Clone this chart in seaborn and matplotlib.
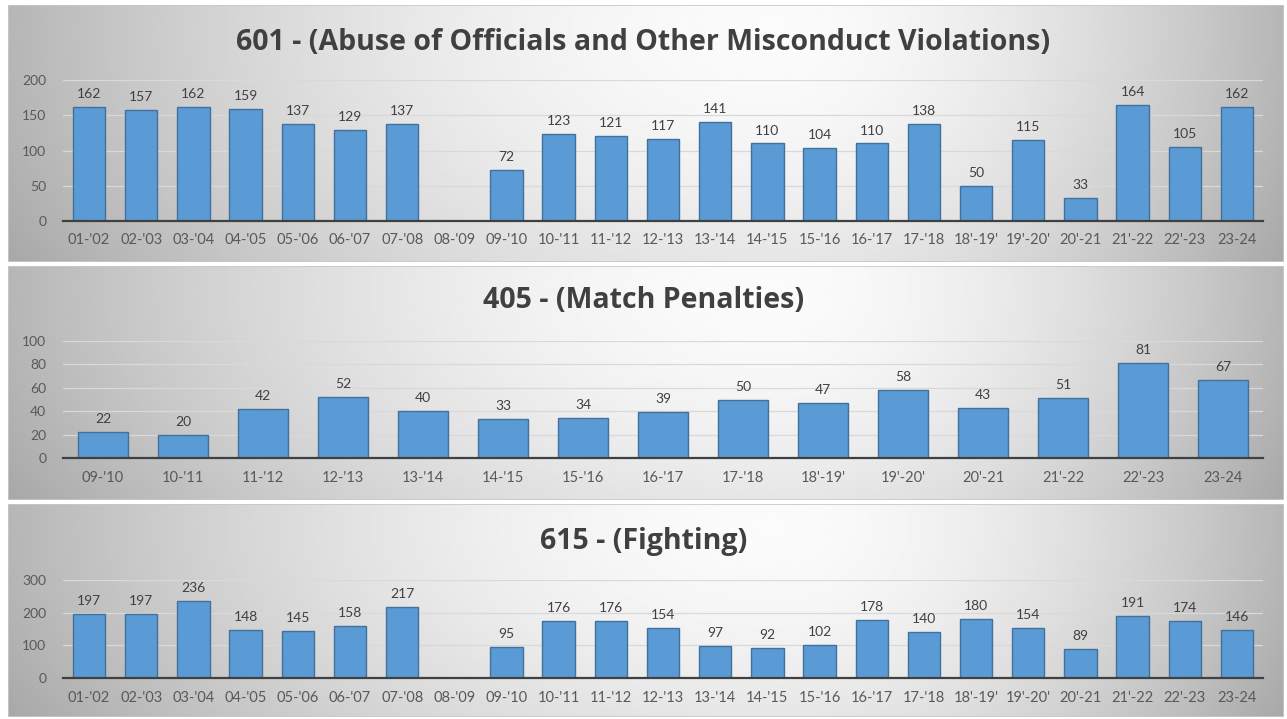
import numpy as np
import pandas as pd
import matplotlib
matplotlib.use("Agg")
import matplotlib.pyplot as plt
from matplotlib.patches import Rectangle
import seaborn as sns

# ---- data ----
SEASONS_ALL = ["01-'02", "02-'03", "03-'04", "04-'05", "05-'06", "06-'07", "07-'08",
               "08-'09", "09-'10", "10-'11", "11-'12", "12-'13", "13-'14", "14-'15",
               "15-'16", "16-'17", "17-'18", "18'-19'", "19'-20'", "20'-21", "21'-22",
               "22'-23", "23-24"]
SEASONS_405 = ["09-'10", "10-'11", "11-'12", "12-'13", "13-'14", "14-'15", "15-'16",
               "16-'17", "17-'18", "18'-19'", "19'-20'", "20'-21", "21'-22", "22'-23",
               "23-24"]

abuse_601 = [162, 157, 162, 159, 137, 129, 137, np.nan, 72, 123, 121, 117, 141, 110,
             104, 110, 138, 50, 115, 33, 164, 105, 162]
match_405 = [22, 20, 42, 52, 40, 33, 34, 39, 50, 47, 58, 43, 51, 81, 67]
fight_615 = [197, 197, 236, 148, 145, 158, 217, np.nan, 95, 176, 176, 154, 97, 92,
             102, 178, 140, 180, 154, 89, 191, 174, 146]

TITLES = ["601 - (Abuse of Officials and Other Misconduct Violations)",
          "405 - (Match Penalties)",
          "615 - (Fighting)"]
YTICKS = [[0, 50, 100, 150, 200], [0, 20, 40, 60, 80, 100], [0, 100, 200, 300]]

W, H = 1287, 719
BAR = "#5b9bd5"
EDGE = "#41719c"
TXT = "#404040"
TICK = "#595959"

sns.set_style("white")
plt.rcParams["font.family"] = ["Lato", "DejaVu Sans"]

fig = plt.figure(figsize=(W / 100, H / 100), dpi=100)


def px(x0, y0, x1, y1):
    # pixel box (top-left origin) -> figure fraction rect
    return [x0 / W, 1 - y1 / H, (x1 - x0) / W, (y1 - y0) / H]


def background(rect):
    bg = fig.add_axes(rect, zorder=-5)
    u = np.linspace(0, 1, 400)[None, :]
    v = np.linspace(0, 1, 120)[:, None]
    dx = np.where(u < 0.6, (u - 0.6) / 0.6, (u - 0.6) / 0.4)
    dy = (v - 0.1) / 1.8
    r = np.sqrt(dx ** 2 + dy ** 2)
    val = 0.985 - 0.27 * np.clip(r, 0, 1.2) ** 1.7
    bg.imshow(val, cmap="gray", vmin=0, vmax=1, aspect="auto",
              extent=[0, 1, 0, 1], interpolation="bilinear")
    bg.add_patch(Rectangle((0, 0), 1, 1, fill=False, ec="#c8c8c8", lw=1.2,
                           transform=bg.transAxes))
    bg.set_xlim(0, 1)
    bg.set_ylim(0, 1)
    bg.axis("off")


panels = [
    # (panel box, axes box, title y, seasons, values)
    ((8, 5, 1284, 262), (63, 80, 1263, 221), 42, SEASONS_ALL, abuse_601),
    ((8, 266, 1284, 500), (63, 341, 1263, 458), 301, SEASONS_405, match_405),
    ((8, 504, 1284, 717), (63, 580, 1263, 678), 541, SEASONS_ALL, fight_615),
]

for (box, axbox, ty, seasons, values), title, yt in zip(panels, TITLES, YTICKS):
    background(px(*box))
    fig.text(0.5, 1 - ty / H, title, ha="center", va="center",
             fontsize=20.5, fontweight="bold", color=TXT,
             family=["Open Sans", "DejaVu Sans"])

    ax = fig.add_axes(px(*axbox))
    ax.patch.set_alpha(0)
    df = pd.DataFrame({"season": seasons, "count": values})
    sns.barplot(data=df, x="season", y="count", order=seasons, color=BAR,
                edgecolor=EDGE, linewidth=1, width=0.62, saturation=1,
                errorbar=None, ax=ax)
    for i, val in enumerate(values):
        if not np.isnan(val):
            ax.annotate(f"{val:.0f}", (i, val), xytext=(0, 5),
                        textcoords="offset points", ha="center", va="bottom",
                        fontsize=10, color=TXT)

    ax.set_xlim(-0.5, len(seasons) - 0.5)
    ax.set_ylim(0, yt[-1])
    ax.set_yticks(yt)
    ax.set_xlabel("")
    ax.set_ylabel("")
    ax.yaxis.grid(True, color="#d9d9d9", lw=0.9)
    ax.set_axisbelow(True)
    for s in ["top", "right", "left"]:
        ax.spines[s].set_visible(False)
    ax.spines["bottom"].set_color("#404040")
    ax.spines["bottom"].set_linewidth(1.6)
    ax.spines["bottom"].set_zorder(5)
    ax.tick_params(axis="y", length=0, pad=12, labelsize=10, labelcolor=TICK)
    ax.tick_params(axis="x", length=0, pad=9, labelsize=10.5, labelcolor=TICK)

fig.savefig("out.png", dpi=100)
